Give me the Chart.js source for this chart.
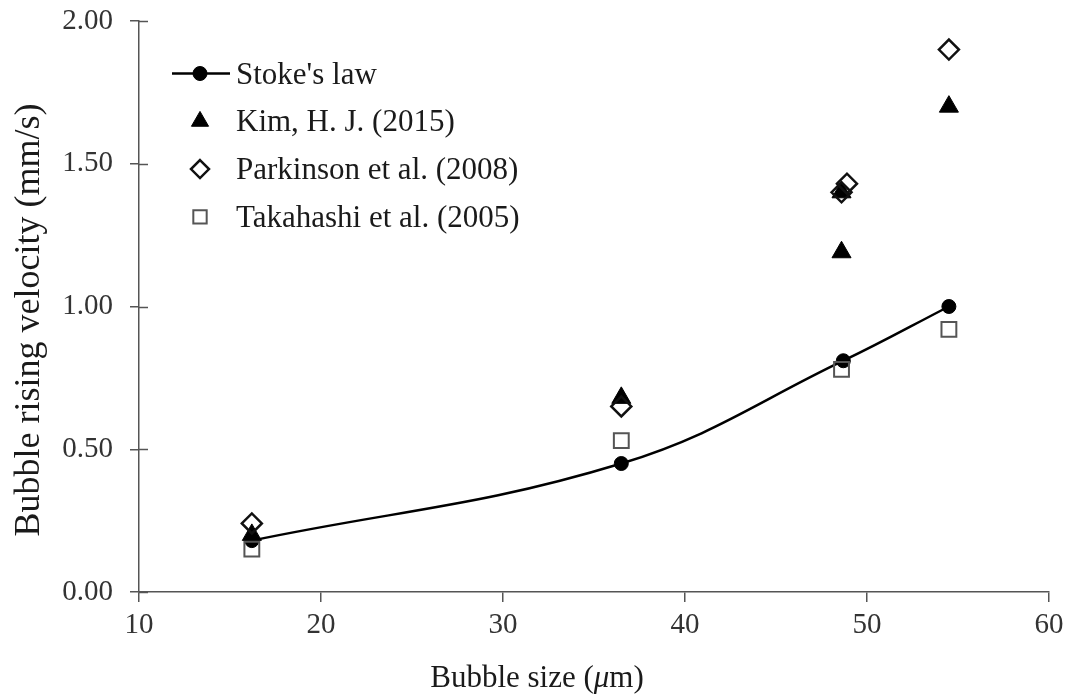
<!DOCTYPE html>
<html><head><meta charset="utf-8">
<script src="https://cdn.jsdelivr.net/npm/chart.js@4.4.1/dist/chart.umd.min.js"></script>
<style>html,body{margin:0;padding:0;background:#fff;} #wrap{width:1072px;height:698px;position:relative;}</style>
</head><body><div id="wrap"><canvas id="c" width="1072" height="698"></canvas></div>
<script>
// ---- data ----
const xStokes = [16.2, 36.5, 48.7, 54.5];
const yStokes = [0.18, 0.45, 0.81, 1.00];
const xKim = [16.2, 36.5, 48.6, 48.6, 54.5];
const yKim = [0.20, 0.68, 1.40, 1.19, 1.70];
const xPark = [16.2, 36.5, 48.6, 48.9, 54.5];
const yPark = [0.24, 0.65, 1.40, 1.43, 1.90];
const xTaka = [16.2, 36.5, 48.6, 54.5];
const yTaka = [0.15, 0.53, 0.78, 0.92];
const seriesLabels = ["Stoke's law", "Kim, H. J. (2015)", "Parkinson et al. (2008)", "Takahashi et al. (2005)"];
const xTickValues = [10, 20, 30, 40, 50, 60];
const yTickValues = [0.00, 0.50, 1.00, 1.50, 2.00];
const xTitleParts = ['Bubble size (', 'μ', 'm)'];
const yTitle = 'Bubble rising velocity (mm/s)';

const FONT = '"Liberation Serif", "Times New Roman", serif';
const pts = (xs, ys) => xs.map((x, i) => ({x: x, y: ys[i]}));

const styles = [
  {pointStyle: 'circle', radius: 7, fill: '#000', stroke: '#000', bw: 1},
  {pointStyle: 'triangle', radius: 11, fill: '#000', stroke: '#000', bw: 1},
  {pointStyle: 'rectRot', radius: 10, fill: 'rgba(255,255,255,0)', stroke: '#111', bw: 2.5},
  {pointStyle: 'rect', radius: 10.5, fill: 'rgba(255,255,255,0)', stroke: '#555', bw: 2}
];

function drawMarker(ctx, st, x, y, scale) {
  const r = st.radius * scale;
  ctx.save();
  ctx.beginPath();
  if (st.pointStyle === 'circle') {
    ctx.arc(x, y, r, 0, Math.PI * 2);
  } else if (st.pointStyle === 'triangle') {
    for (let k = 0; k < 3; k++) {
      const a = k * 2 * Math.PI / 3;
      const px = x + Math.sin(a) * r, py = y - Math.cos(a) * r;
      k ? ctx.lineTo(px, py) : ctx.moveTo(px, py);
    }
    ctx.closePath();
  } else if (st.pointStyle === 'rectRot') {
    ctx.moveTo(x, y - r); ctx.lineTo(x + r, y); ctx.lineTo(x, y + r); ctx.lineTo(x - r, y); ctx.closePath();
  } else {
    const s = r * Math.SQRT1_2;
    ctx.rect(x - s, y - s, 2 * s, 2 * s);
  }
  ctx.fillStyle = st.fill; ctx.fill();
  ctx.lineWidth = st.bw; ctx.strokeStyle = st.stroke; ctx.stroke();
  ctx.restore();
}

const decor = {
  id: 'decor',
  afterDraw(chart) {
    const ctx = chart.ctx;
    const ys = chart.scales.y;
    const ax = chart.chartArea.left;
    // inner half of y tick marks (cross ticks)
    ctx.save();
    ctx.strokeStyle = '#555'; ctx.lineWidth = 1.5;
    ys.ticks.forEach(t => {
      const py = Math.round(ys.getPixelForValue(t.value)) + 0.5;
      ctx.beginPath(); ctx.moveTo(ax, py); ctx.lineTo(ax + 9, py); ctx.stroke();
    });
    ctx.restore();

    // legend
    const lx = 200, textX = 236, base0 = 83.5, step = 47.8;
    ctx.save();
    ctx.font = '31px ' + FONT;
    ctx.fillStyle = '#1a1a1a';
    ctx.textBaseline = 'alphabetic';
    ctx.textAlign = 'left';
    seriesLabels.forEach((lab, i) => {
      const b = base0 + i * step;
      const my = b - 10;
      if (i === 0) {
        ctx.save(); ctx.strokeStyle = '#000'; ctx.lineWidth = 2.5;
        ctx.beginPath(); ctx.moveTo(172, my); ctx.lineTo(230, my); ctx.stroke(); ctx.restore();
      }
      drawMarker(ctx, styles[i], lx, my, i === 0 ? 1 : 0.9);
      ctx.fillText(lab, textX, b);
    });
    ctx.restore();

    // x title with italic mu
    ctx.save();
    ctx.fillStyle = '#1a1a1a';
    ctx.textBaseline = 'alphabetic';
    const fN = '31px ' + FONT, fI = 'italic 31px ' + FONT;
    const widths = xTitleParts.map((p, i) => { ctx.font = i === 1 ? fI : fN; return ctx.measureText(p).width; });
    const total = widths.reduce((a, b) => a + b, 0);
    let cx = 537 - total / 2;
    xTitleParts.forEach((p, i) => { ctx.font = i === 1 ? fI : fN; ctx.fillText(p, cx, 687); cx += widths[i]; });
    ctx.restore();

    // y title
    ctx.save();
    ctx.fillStyle = '#1a1a1a';
    ctx.font = '36px ' + FONT;
    ctx.translate(39, 320);
    ctx.rotate(-Math.PI / 2);
    ctx.textAlign = 'center';
    ctx.textBaseline = 'alphabetic';
    ctx.fillText(yTitle, 0, 0);
    ctx.restore();
  }
};

const dsCommon = (i) => ({
  pointStyle: styles[i].pointStyle,
  pointRadius: styles[i].radius,
  pointHoverRadius: styles[i].radius,
  pointBackgroundColor: styles[i].fill,
  pointBorderColor: styles[i].stroke,
  pointBorderWidth: styles[i].bw,
});

new Chart(document.getElementById('c'), {
  type: 'scatter',
  data: {
    datasets: [
      Object.assign({label: seriesLabels[0], data: pts(xStokes, yStokes), showLine: true, borderColor: '#000', borderWidth: 2.5, tension: 0.4, order: 4}, dsCommon(0)),
      Object.assign({label: seriesLabels[1], data: pts(xKim, yKim), showLine: false, order: 3}, dsCommon(1)),
      Object.assign({label: seriesLabels[2], data: pts(xPark, yPark), showLine: false, order: 2}, dsCommon(2)),
      Object.assign({label: seriesLabels[3], data: pts(xTaka, yTaka), showLine: false, order: 1}, dsCommon(3)),
    ]
  },
  options: {
    responsive: false,
    animation: false,
    devicePixelRatio: 1,
    layout: {padding: {left: 0, right: 23, top: 21, bottom: 0}},
    plugins: {legend: {display: false}, tooltip: {enabled: false}},
    scales: {
      x: {
        type: 'linear', min: 10, max: 60,
        afterBuildTicks: s => { s.ticks = xTickValues.map(v => ({value: v})); },
        afterFit: s => { s.height = 106; s.paddingLeft = 0; s.paddingRight = 0; },
        grid: {drawOnChartArea: false, drawTicks: true, tickLength: 10, color: '#555', lineWidth: 1.5},
        border: {display: true, color: '#555', width: 1.5},
        ticks: {font: {family: FONT, size: 29}, color: '#333', padding: 6, maxRotation: 0, callback: v => String(v)},
        title: {display: false}
      },
      y: {
        type: 'linear', min: 0, max: 2,
        afterBuildTicks: s => { s.ticks = yTickValues.map(v => ({value: v})); },
        afterFit: s => { s.width = 139; s.paddingTop = 0; s.paddingBottom = 0; },
        grid: {drawOnChartArea: false, drawTicks: true, tickLength: 9, color: '#555', lineWidth: 1.5},
        border: {display: true, color: '#555', width: 1.5},
        ticks: {font: {family: FONT, size: 29}, color: '#333', padding: 17, callback: v => Number(v).toFixed(2)},
        title: {display: false}
      }
    }
  },
  plugins: [decor]
});
</script>
</body></html>
